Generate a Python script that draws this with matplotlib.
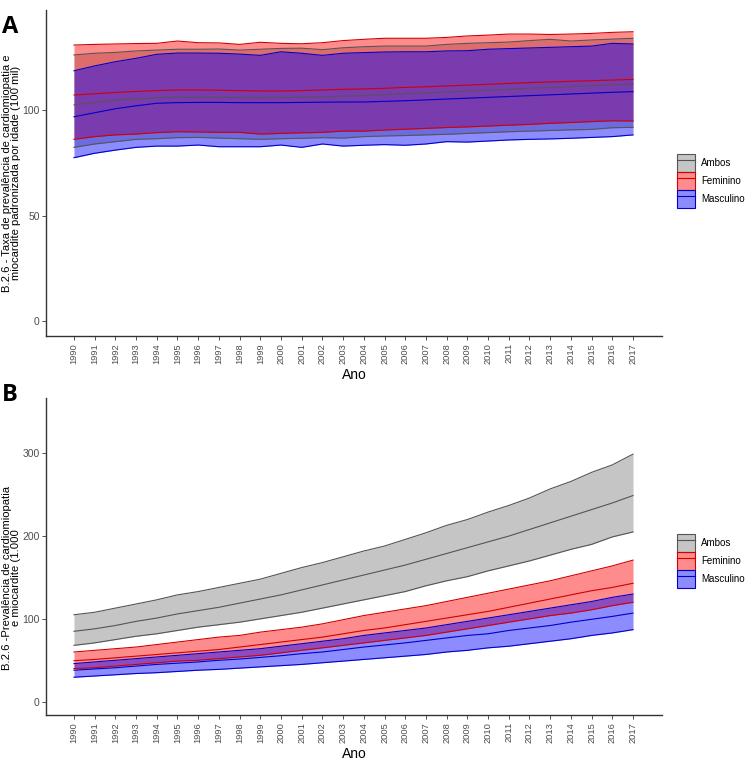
import matplotlib
matplotlib.use("Agg")
import matplotlib.pyplot as plt
from matplotlib.patches import Patch
from matplotlib.lines import Line2D

plt.rcParams['font.family'] = ['Liberation Sans', 'DejaVu Sans']

years = list(range(1990, 2018))
groups = ["Ambos", "Feminino", "Masculino"]

# Panel A: age-standardised prevalence per 100 mil
a_amb_up = [126.1, 126.9, 127.3, 128.0, 128.4, 128.8, 128.8, 128.9, 128.4, 128.8, 129.2, 129.3, 128.6, 129.5,
            130.0, 130.3, 130.3, 130.3, 131.1, 131.6, 131.9, 132.2, 132.9, 133.5, 132.7, 133.2, 133.6, 134.0]
a_amb_mid = [102.4, 103.6, 104.7, 105.3, 105.8, 106.0, 106.0, 106.0, 105.9, 105.8, 105.9, 106.0, 106.2, 106.6,
             106.9, 107.3, 107.7, 108.1, 108.5, 109.0, 109.4, 109.8, 110.3, 110.7, 111.1, 111.5, 111.9, 112.2]
a_amb_low = [82.3, 83.9, 85.0, 86.1, 86.4, 86.9, 87.0, 86.7, 86.4, 86.1, 86.4, 86.6, 86.9, 86.7,
             87.4, 87.7, 87.9, 88.2, 88.5, 88.9, 89.3, 89.7, 90.0, 90.3, 90.6, 90.8, 91.6, 91.8]
a_fem_up = [130.8, 131.1, 131.3, 131.5, 131.6, 132.7, 131.9, 131.8, 131.1, 132.1, 131.6, 131.4, 131.9, 132.9,
            133.5, 134.0, 134.0, 134.0, 134.4, 135.1, 135.5, 136.0, 136.0, 135.8, 136.0, 136.3, 136.8, 137.1]
a_fem_mid = [107.1, 107.7, 108.3, 108.8, 109.2, 109.5, 109.5, 109.4, 109.2, 109.0, 109.0, 109.2, 109.5, 109.8,
             110.0, 110.3, 110.7, 111.0, 111.4, 111.8, 112.2, 112.6, 113.0, 113.3, 113.6, 113.9, 114.2, 114.5]
a_fem_low = [86.1, 87.4, 88.2, 88.6, 89.3, 89.7, 89.6, 89.4, 89.4, 88.6, 88.9, 89.2, 89.4, 90.0,
             90.0, 90.5, 90.9, 91.3, 91.7, 92.0, 92.4, 92.8, 93.2, 93.7, 94.1, 94.5, 94.9, 94.8]
a_mas_up = [118.6, 120.9, 122.9, 124.5, 126.4, 127.0, 127.0, 126.9, 126.5, 125.9, 127.6, 126.9, 125.9, 126.9,
            127.2, 127.5, 127.6, 127.6, 128.0, 128.1, 128.8, 129.1, 129.4, 129.7, 130.0, 130.3, 131.6, 131.3]
a_mas_mid = [96.8, 98.7, 100.6, 102.0, 103.2, 103.5, 103.6, 103.6, 103.5, 103.5, 103.5, 103.6, 103.7, 103.8,
             103.8, 104.1, 104.4, 104.8, 105.2, 105.6, 106.0, 106.4, 106.8, 107.2, 107.6, 108.0, 108.4, 108.7]
a_mas_low = [77.4, 79.5, 81.0, 82.3, 82.9, 82.9, 83.4, 82.6, 82.6, 82.6, 83.4, 82.3, 83.9, 82.9,
             83.3, 83.6, 83.3, 83.9, 85.0, 84.8, 85.3, 85.8, 86.1, 86.3, 86.6, 87.0, 87.4, 88.2]

# Panel B: prevalence (1.000)
b_amb_up = [105, 108, 113, 118, 123, 129, 133, 138, 143, 148, 155, 162, 168, 175,
            182, 188, 196, 204, 213, 220, 229, 237, 246, 257, 266, 277, 286, 299]
b_amb_mid = [85, 88, 92, 97, 101, 106, 110, 114, 119, 124, 129, 135, 141, 147,
             153, 159, 165, 172, 179, 186, 193, 200, 208, 216, 224, 232, 240, 249]
b_amb_low = [68, 71, 75, 79, 82, 86, 90, 93, 96, 100, 104, 108, 113, 118,
             123, 128, 133, 140, 146, 151, 158, 164, 170, 177, 184, 190, 199, 205]
b_fem_up = [60, 62, 64, 66, 69, 72, 75, 78, 80, 84, 87, 90, 94, 99,
            104, 108, 112, 116, 121, 126, 131, 136, 141, 146, 152, 158, 164, 171]
b_fem_mid = [49.5, 51, 53, 55, 57, 59, 61, 63, 66, 69, 72, 75, 78, 82,
             86, 89, 93, 97, 101, 105, 109, 114, 119, 124, 129, 134, 138, 143]
b_fem_low = [40, 41, 43, 45, 47, 49, 50, 52, 54, 56, 59, 62, 65, 68,
             71, 74, 77, 80, 84, 88, 92, 96, 100, 104, 107, 111, 116, 120]
b_mas_up = [46, 48, 50, 52, 54, 56, 58, 60, 62, 64, 67, 70, 73, 76,
            80, 83, 86, 89, 93, 97, 101, 105, 109, 113, 117, 121, 126, 130]
b_mas_mid = [38, 39.5, 41, 43, 45, 46.5, 48, 50, 51.5, 53.5, 55.5, 58, 60, 63,
             66, 68.5, 71, 74, 77, 80, 82, 86, 89, 92, 96, 99.5, 103, 107]
b_mas_low = [29.5, 31, 32.5, 34, 35, 36.5, 38, 39, 40.5, 42, 43.5, 45, 47, 49,
             51, 53, 55, 57, 60, 62, 65, 67, 70, 73, 76, 80, 83, 87]

fill_colors = {"Ambos": "#808080", "Feminino": "#ff0000", "Masculino": "#0000ff"}
line_colors = {"Ambos": "#555555", "Feminino": "#d00000", "Masculino": "#0000c8"}
ALPHA = 0.45

fig = plt.figure(figsize=(7.5, 7.6), dpi=100)
W, H = 750, 760


def ax_rect(x0, y0, x1, y1):
    return [x0 / W, 1 - y1 / H, (x1 - x0) / W, (y1 - y0) / H]


axA = fig.add_axes(ax_rect(46, 10, 662, 336))
axB = fig.add_axes(ax_rect(46, 398, 662, 715))

dataA = {"Ambos": (a_amb_low, a_amb_mid, a_amb_up),
         "Feminino": (a_fem_low, a_fem_mid, a_fem_up),
         "Masculino": (a_mas_low, a_mas_mid, a_mas_up)}
dataB = {"Ambos": (b_amb_low, b_amb_mid, b_amb_up),
         "Feminino": (b_fem_low, b_fem_mid, b_fem_up),
         "Masculino": (b_mas_low, b_mas_mid, b_mas_up)}


def draw(ax, data, ylim, yticks, ylabel, label_y):
    for g in groups:
        lo, mid, up = data[g]
        ax.fill_between(years, lo, up, color=fill_colors[g], alpha=ALPHA, lw=0)
        for s in (lo, mid, up):
            ax.plot(years, s, color=line_colors[g], lw=0.8)
    ax.set_xlim(1988.65, 2018.4)
    ax.set_ylim(*ylim)
    ax.set_xticks(years)
    ax.set_xticklabels([str(y) for y in years], rotation=90, fontsize=6.7, color="#4d4d4d")
    ax.set_yticks(yticks)
    ax.set_yticklabels([str(t) for t in yticks], fontsize=7.5, color="#4d4d4d")
    ax.tick_params(axis="both", length=3, width=0.6, color="#333333", pad=2)
    ax.tick_params(axis="y", pad=1.5)
    for sp in ("top", "right"):
        ax.spines[sp].set_visible(False)
    for sp in ("left", "bottom"):
        ax.spines[sp].set_color("#333333")
        ax.spines[sp].set_linewidth(1.0)
    ax.set_xlabel("Ano", fontsize=10, labelpad=3)
    ax.set_ylabel(ylabel, fontsize=8.1, multialignment="center", linespacing=0.98)
    ax.yaxis.set_label_coords(-0.040, label_y)


draw(axA, dataA, (-7.1, 147.4), [0, 50, 100],
     "B.2.6 - Taxa de prevalência de cardiomiopatia e\nmiocardite padronizada por idade (100 mil)", 0.5)
draw(axB, dataB, (-16.1, 366.8), [0, 100, 200, 300],
     "B.2.6 -Prevalência de cardiomiopatia\ne miocardite (1.000", 0.432)

fig.text(2 / W, 1 - 27 / H, "A", fontsize=17, fontweight="bold", family="Open Sans", va="center")
fig.text(2 / W, 1 - 395 / H, "B", fontsize=17, fontweight="bold", family="Open Sans", va="center")

handles = []
for g in groups:
    p = Patch(facecolor=matplotlib.colors.to_rgba(fill_colors[g], ALPHA),
              edgecolor=line_colors[g], linewidth=0.8)
    l = Line2D([0], [0], color=line_colors[g], lw=0.8)
    handles.append((p, l))

for top in (154, 534):
    fig.legend(handles, groups, loc="upper left", bbox_to_anchor=(677 / W, 1 - top / H),
               frameon=False, fontsize=7, handlelength=1.86, handleheight=2.47,
               labelspacing=0.0, handletextpad=0.6, borderpad=0, borderaxespad=0)

fig.savefig("out.png", dpi=100)
